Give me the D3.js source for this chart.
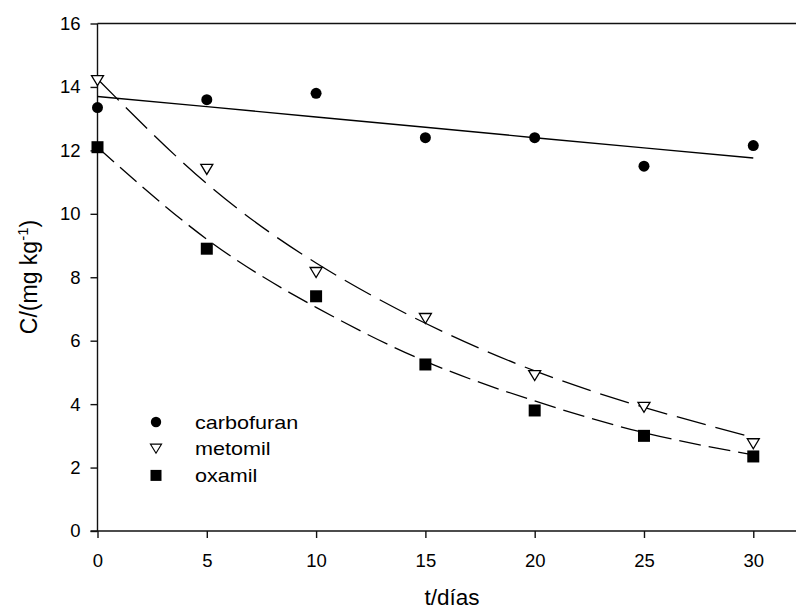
<!DOCTYPE html>
<html>
<head>
<meta charset="utf-8">
<script src="https://cdn.jsdelivr.net/npm/d3@7"></script>
<style>
  body { margin: 0; background: #fff; }
  svg text { font-family: "Liberation Sans", Arial, sans-serif; fill: #000; }
</style>
</head>
<body>
<svg id="chart" width="796" height="610"></svg>
<script>
// days
const dias = [0, 5, 10, 15, 20, 25, 30];

// measured concentrations (mg/kg)
const carbofuran = [13.35, 13.6, 13.8, 12.4, 12.4, 11.5, 12.15];
const metomil = [14.2, 11.4, 8.15, 6.7, 4.9, 3.9, 2.75];
const oxamil = [12.1, 8.9, 7.4, 5.25, 3.8, 3.0, 2.35];

// fitted curves at the same days
const carbofuranFit = [13.7, 13.38, 13.05, 12.73, 12.4, 12.08, 11.76];
const metomilFit = [14.25, 10.95, 8.45, 6.55, 5.05, 3.9, 2.95];
const oxamilFit = [12.1, 9.2, 7.05, 5.35, 4.1, 3.1, 2.4];

const xTicks = [0, 5, 10, 15, 20, 25, 30];
const yTicks = [0, 2, 4, 6, 8, 10, 12, 14, 16];
const legendNames = ["carbofuran", "metomil", "oxamil"];

const svg = d3.select("#chart");

const x = d3.scaleLinear().domain([0, 32]).range([97.5, 797]);
const y = d3.scaleLinear().domain([0, 16]).range([531, 23.5]);

// top border
svg.append("line")
  .attr("x1", x(0)).attr("x2", x(32))
  .attr("y1", y(16)).attr("y2", y(16))
  .attr("stroke", "#111").attr("stroke-width", 1.4);

// axes
const yAxis = svg.append("g")
  .attr("transform", "translate(" + x(0) + ",0)")
  .call(d3.axisLeft(y).tickValues(yTicks).tickSize(7).tickSizeOuter(0).tickPadding(10));

const xAxis = svg.append("g")
  .attr("transform", "translate(0," + y(0) + ")")
  .call(d3.axisBottom(x).tickValues(xTicks).tickSize(7).tickSizeOuter(0).tickPadding(16));

[xAxis, yAxis].forEach(function (ax) {
  ax.select(".domain").attr("stroke", "#111").attr("stroke-width", 1.4);
  ax.selectAll(".tick line").attr("stroke", "#111").attr("stroke-width", 1.4);
  ax.selectAll(".tick text")
    .attr("font-size", 18.5)
    .attr("font-family", "Liberation Sans, Arial, sans-serif")
    .attr("fill", "#000");
});
yAxis.select(".domain").attr("d", "M0," + y(16) + "V" + y(0));
xAxis.select(".domain").attr("d", "M" + (x(0) - 7) + ",0H" + x(32));

// axis titles
svg.append("text")
  .attr("x", 452).attr("y", 605)
  .attr("text-anchor", "middle")
  .attr("font-size", 22.5)
  .text("t/días");

const yt = svg.append("text")
  .attr("transform", "translate(37,277) rotate(-90)")
  .attr("text-anchor", "middle")
  .attr("font-size", 23);
yt.append("tspan").text("C/(mg kg");
yt.append("tspan").attr("font-size", 15).attr("dy", -9).text("-1");
yt.append("tspan").attr("dy", 9).text(")");

// fitted lines
const line = d3.line()
  .x(function (d, i) { return x(dias[i]); })
  .y(function (d) { return y(d); });
const curve = d3.line()
  .x(function (d, i) { return x(dias[i]); })
  .y(function (d) { return y(d); })
  .curve(d3.curveNatural);

svg.append("path").datum(carbofuranFit)
  .attr("d", line).attr("fill", "none")
  .attr("stroke", "#000").attr("stroke-width", 1.4);
svg.append("path").datum(metomilFit)
  .attr("d", curve).attr("fill", "none")
  .attr("stroke", "#000").attr("stroke-width", 1.3)
  .attr("stroke-dasharray", "30,10");
svg.append("path").datum(oxamilFit)
  .attr("d", curve).attr("fill", "none")
  .attr("stroke", "#000").attr("stroke-width", 1.3)
  .attr("stroke-dasharray", "22,8");

// marker shapes
function triPath(w, h) {
  return "M" + (-w / 2) + "," + (-h / 2) + "L" + (w / 2) + "," + (-h / 2) + "L0," + (h / 2) + "Z";
}

svg.append("g").selectAll("circle")
  .data(carbofuran).join("circle")
  .attr("cx", function (d, i) { return x(dias[i]); })
  .attr("cy", function (d) { return y(d); })
  .attr("r", 5.5)
  .attr("fill", "#000");

svg.append("g").selectAll("path")
  .data(metomil).join("path")
  .attr("transform", function (d, i) { return "translate(" + x(dias[i]) + "," + y(d) + ")"; })
  .attr("d", triPath(12, 10))
  .attr("fill", "#fff")
  .attr("stroke", "#000").attr("stroke-width", 1.3);

svg.append("g").selectAll("rect")
  .data(oxamil).join("rect")
  .attr("x", function (d, i) { return x(dias[i]) - 6; })
  .attr("y", function (d) { return y(d) - 6; })
  .attr("width", 12).attr("height", 12)
  .attr("fill", "#000");

// legend
legendNames.forEach(function (name, i) {
  const base = 428.5 + i * 26.7;
  const g = svg.append("g").attr("transform", "translate(156," + (base - 6.5) + ")");
  if (i === 0) {
    g.append("circle").attr("r", 5.2).attr("fill", "#000");
  } else if (i === 1) {
    g.append("path").attr("d", triPath(11, 9))
      .attr("fill", "#fff").attr("stroke", "#000").attr("stroke-width", 1.2);
  } else {
    g.append("rect").attr("x", -5.5).attr("y", -5.5)
      .attr("width", 11).attr("height", 11).attr("fill", "#000");
  }
  svg.append("text")
    .attr("transform", "translate(195," + base + ") scale(1.2,1)")
    .attr("font-size", 18)
    .text(name);
});
</script>
</body>
</html>
